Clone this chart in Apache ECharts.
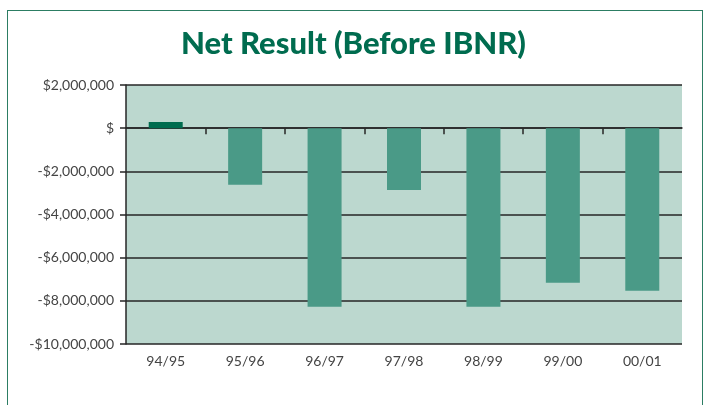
<!DOCTYPE html>
<html>
<head>
<meta charset="utf-8">
<script src="https://cdn.jsdelivr.net/npm/echarts@6/dist/echarts.min.js"></script>
<style>
html, body { margin: 0; padding: 0; background: #fff; }
#frame {
    position: absolute; left: 7px; top: 10px;
    width: 694px; height: 420px;
    border: 1.5px solid #2c7d63;
}
#container { position: absolute; left: 0; top: 0; width: 707px; height: 405px; }
</style>
</head>
<body>
<div id="frame"></div>
<div id="container"></div>
<script>
var categories = ['94/95', '95/96', '96/97', '97/98', '98/99', '99/00', '00/01'];
var netResult = [280000, -2620000, -8270000, -2870000, -8270000, -7160000, -7530000];
var yTickLabels = {
    '2000000': '$2,000,000',
    '0': '$',
    '-2000000': '-$2,000,000',
    '-4000000': '-$4,000,000',
    '-6000000': '-$6,000,000',
    '-8000000': '-$8,000,000',
    '-10000000': '-$10,000,000'
};
// tick marks on the zero line sit between categories
var zeroTicks = [1, 2, 3, 4, 5, 6];

var posColor = '#006c4f';
var negColor = '#4a9a87';
var lineColor = '#262626';
var labelFont = 'Lato, "Open Sans", sans-serif';

var myChart = echarts.init(document.getElementById('container'));

var option = {
    animation: false,
    title: {
        text: 'Net Result (Before IBNR)',
        left: 'center',
        top: 23,
        textStyle: {
            color: '#006c4f',
            fontFamily: labelFont,
            fontWeight: 900,
            fontSize: 31
        }
    },
    grid: {
        left: 126,
        right: 25,
        top: 85,
        bottom: 61,
        show: true,
        backgroundColor: '#bcd8cf',
        borderWidth: 0
    },
    xAxis: [{
        type: 'category',
        data: categories,
        position: 'bottom',
        axisLine: {show: false, onZero: false},
        axisTick: {show: false},
        axisLabel: {
            margin: 10,
            color: '#444',
            fontFamily: labelFont,
            fontSize: 14
        }
    }, {
        type: 'value',
        min: 0,
        max: categories.length,
        interval: 1,
        position: 'bottom',
        splitLine: {show: false},
        axisLine: {show: true, onZero: true, lineStyle: {color: lineColor, width: 1.5}},
        axisTick: {show: true, length: 6, customValues: zeroTicks, lineStyle: {color: lineColor, width: 1.5}},
        axisLabel: {show: false}
    }],
    yAxis: {
        type: 'value',
        min: -10000000,
        max: 2000000,
        interval: 2000000,
        axisLine: {show: true, lineStyle: {color: lineColor, width: 1.5}},
        axisTick: {show: true, length: 6, lineStyle: {color: lineColor, width: 1.5}},
        splitLine: {show: true, lineStyle: {color: lineColor, width: 1.5}},
        axisLabel: {
            margin: 12,
            color: '#444',
            fontFamily: labelFont,
            fontSize: 14,
            formatter: function (v) { return yTickLabels[String(v)]; }
        }
    },
    series: [{
        type: 'bar',
        data: netResult,
        xAxisIndex: 0,
        barWidth: 34,
        itemStyle: {
            color: function (p) { return p.value >= 0 ? posColor : negColor; }
        }
    }]
};
myChart.setOption(option);
</script>
</body>
</html>
